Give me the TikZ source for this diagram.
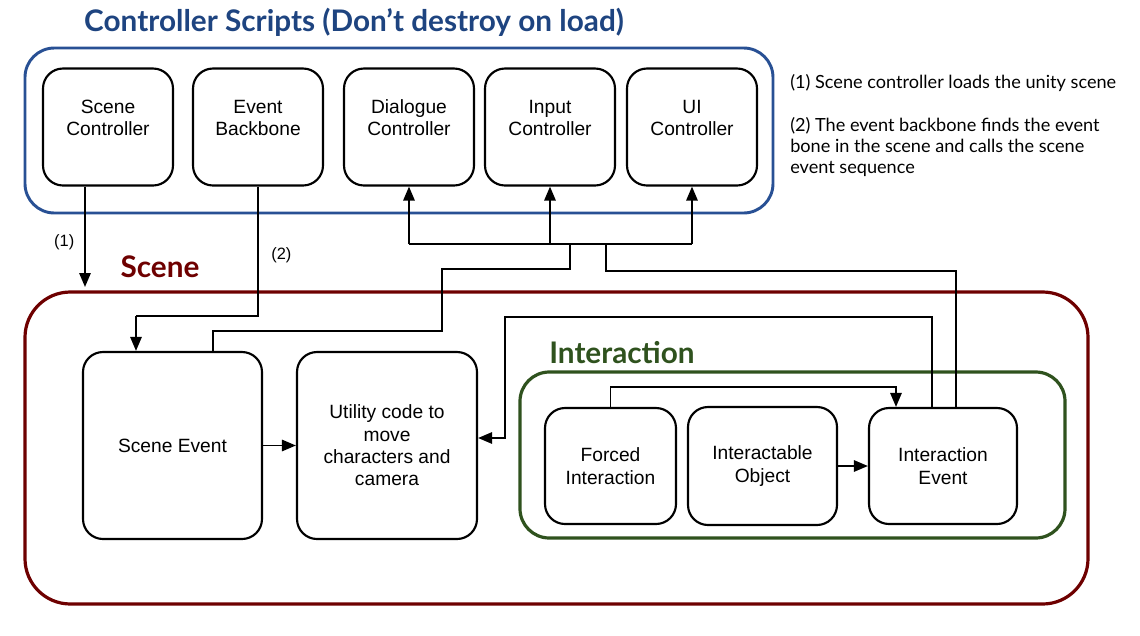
\documentclass[tikz,border=0pt]{standalone}
\usepackage{fontspec}
\setmainfont{Liberation Sans}
\newfontfamily\headfont{Lato}
\usetikzlibrary{arrows.meta}
\definecolor{ctrlblue}{RGB}{40,80,148}
\definecolor{titleblue}{RGB}{30,68,128}
\definecolor{scenered}{RGB}{110,0,0}
\definecolor{interactgreen}{RGB}{47,82,30}
\begin{document}
\begin{tikzpicture}[x=0.75pt,y=-0.75pt,
	block/.style={draw,line width=1.6pt,rounded corners=15pt,align=center,
		font=\fontsize{14.4}{16.8}\selectfont,minimum width=97.5pt,minimum height=87.75pt},
	wire/.style={line width=1.4pt},
	arr/.style={wire,-{Triangle[length=10.5pt,width=8.5pt]}},
	head/.style={font=\headfont\bfseries\fontsize{22.3}{26}\selectfont},
	note/.style={anchor=north west,align=left,inner sep=0pt,
		font=\headfont\fontsize{13.6}{15.75}\selectfont}]
\useasboundingbox (0,0) rectangle (1140,636);
% containers
\draw[ctrlblue,line width=2.2pt,rounded corners=22pt] (25,48) rectangle (773,213);
\draw[scenered,line width=2.4pt,rounded corners=34pt] (25,292) rectangle (1088,604);
\draw[interactgreen,line width=2.4pt,rounded corners=22pt] (520,372) rectangle (1065,538);
\node[head,text=titleblue] (ttl) at (354,22) {Controller Scripts (Don’t destroy on load)};
\node[head,text=scenered] (sct) at (160,267) {Scene};
\node[head,text=interactgreen] (itt) at (622,353) {Interaction};
% controller scripts
\foreach \n/\x/\t in {scn/108/{Scene\\Controller},evb/258/{Event\\Backbone},
	dlg/409/{Dialogue\\Controller},inp/550/{Input\\Controller},uic/692/{UI\\Controller}}{
	\node[block,text depth=14pt] (\n) at (\x,127) {\t};}
% scene
\node[block,minimum width=134.25pt,minimum height=140.25pt] (sev) at (172.5,445.5) {Scene Event};
\node[block,minimum width=135pt,minimum height=140.25pt] (utl) at (387,445.5) {Utility code to\\move\\characters and\\camera};
\node[block,minimum width=98.25pt,minimum height=87pt] (fri) at (610.5,466) {Forced\\Interaction};
\node[block,minimum width=111.75pt,minimum height=88.5pt] (iob) at (762.5,466) {Interactable\\Object};
\node[block,minimum width=111pt,minimum height=87pt] (iev) at (943,466) {Interaction\\Event};
% notes
\node[note] (n1) at (790,74) {(1) Scene controller loads the unity scene};
\node[note] (n2) at (790,117) {(2) The event backbone finds the event\\bone in the scene and calls the scene\\event sequence};
% bend points
\coordinate (ld) at (85,287);
\coordinate (j2) at (136,316);
\coordinate (bl) at (409,244);
\coordinate (br) at (692,244);
\coordinate (k0) at (213,331);
\coordinate (k1) at (442,331);
\coordinate (k2) at (570,269);
\coordinate (k3) at (606,271);
\coordinate (k4) at (956,271);
\coordinate (k5) at (932,317);
\coordinate (k6) at (505,438);
\coordinate (k7) at (896,387);
% connectors
\draw[arr] (scn.south -| ld) -- node[pos=0.55,left=4pt,font=\fontsize{12.3}{14}\selectfont] {(1)} (ld);
\draw[wire] (evb.south) -- node[pos=0.53,right=6pt,font=\fontsize{12.3}{14}\selectfont] {(2)} (evb.south |- j2) -- (j2);
\draw[arr] (j2) -- (j2 |- sev.north);
\draw[wire] (bl) -- (br);
\foreach \n in {dlg,inp,uic}{
	\draw[arr] (\n.south |- bl) -- (\n.south);}
\draw[wire] (sev.north -| k0) -- (k0) -- (k1) |- (k2) -- (k2 |- bl);
\draw[wire] (iev.north -| k4) -- (k4) -- (k3) -- (k3 |- bl);
\draw[arr] (iev.north -| k5) -- (k5) -| (k6) -- (k6 -| utl.east);
\draw[arr] (fri.north) |- (k7) -- (k7 |- iev.north);
\draw[arr] (iob.east) -- (iev.west);
\draw[arr] (sev.east) -- (utl.west);
\end{tikzpicture}
\end{document}
